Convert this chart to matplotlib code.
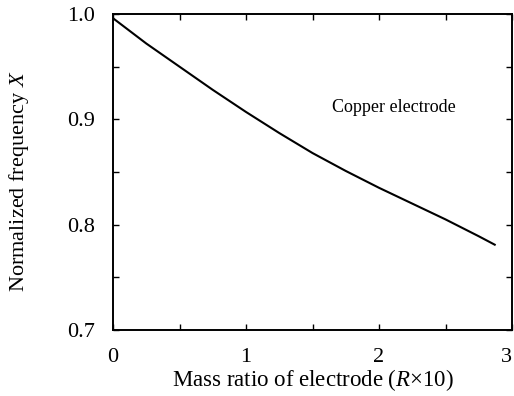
import numpy as np
import matplotlib
matplotlib.use('Agg')
import matplotlib.pyplot as plt
from matplotlib.ticker import MultipleLocator

plt.rcParams['font.family'] = ['Liberation Serif', 'DejaVu Serif']
plt.rcParams['mathtext.fontset'] = 'custom'
plt.rcParams['mathtext.it'] = 'Liberation Serif:italic'
plt.rcParams['mathtext.rm'] = 'Liberation Serif'

# values
mass_ratio = [0.0, 0.25, 0.5, 0.75, 1.0, 1.25, 1.5, 1.75, 2.0, 2.25, 2.5, 2.75, 2.87]
freq = [0.996, 0.972, 0.950, 0.928, 0.907, 0.887, 0.868, 0.851, 0.835, 0.820, 0.805, 0.789, 0.781]
x_ticks = [0, 1, 2, 3]
x_labels = ['0', '1', '2', '3']

fig = plt.figure(figsize=(5.14, 3.96), dpi=100)
ax = fig.add_axes([113/514, 1-330/396, 399/514, 316/396])

ax.plot(mass_ratio, freq, color='black', lw=1.5)
ax.set_xlim(0, 3)
ax.set_ylim(0.7, 1.0)

ax.set_xticks(x_ticks, x_labels)
ax.xaxis.set_minor_locator(MultipleLocator(0.5))
ax.yaxis.set_major_locator(MultipleLocator(0.1))
ax.yaxis.set_minor_locator(MultipleLocator(0.05))
ax.yaxis.set_major_formatter(plt.FormatStrFormatter('%.1f'))
ax.tick_params(which='both', direction='in', top=True, right=True, length=4, width=1, labelsize=16)
ax.tick_params(axis='x', pad=13)
ax.tick_params(axis='y', pad=13)
for s in ax.spines.values():
    s.set_linewidth(1.4)

ax.text(1.65, 0.911, 'Copper electrode', fontsize=13, va='center')
ax.set_xlabel(r'Mass ratio of electrode ($R$×10)', fontsize=16.5, labelpad=0)
ax.set_ylabel(r'Normalized frequency $X$', fontsize=16)
ax.yaxis.set_label_coords(-0.205, 0.47)

# keep the rightmost tick label inside the picture
ax.get_xticklabels()[-1].set_horizontalalignment('right')

fig.savefig('out.png', dpi=100)
